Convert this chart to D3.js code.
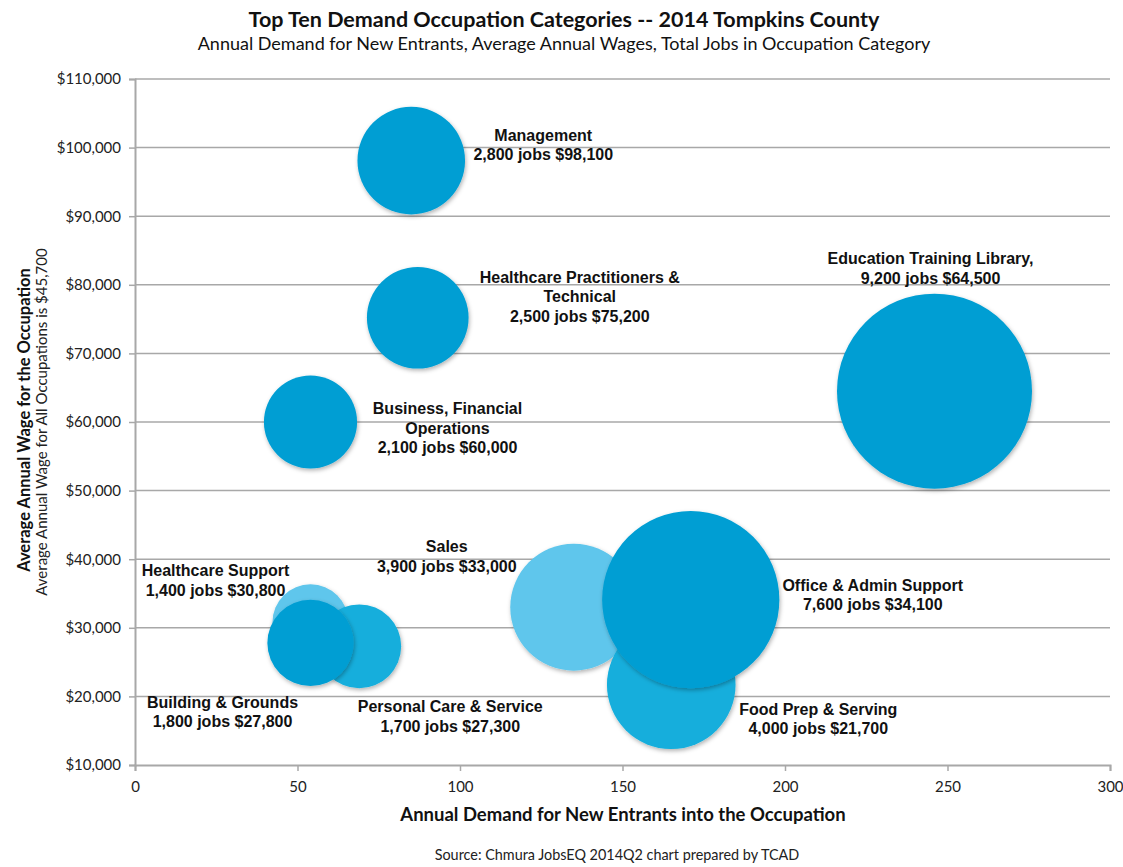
<!DOCTYPE html>
<html>
<head>
<meta charset="utf-8">
<script src="https://cdn.jsdelivr.net/npm/d3@7"></script>
<style>
  body { margin: 0; background: #fff; }
  .tick text { font-family: Lato, "Open Sans", sans-serif; font-size: 15px; fill: #222; }
  .lbl { font-family: "Liberation Sans", Arial, sans-serif; font-weight: bold; font-size: 16px; fill: #111; }
</style>
</head>
<body>
<div class="chart"></div>
<script>
// Occupation data
var occupations = ["Sales", "Food Prep & Serving", "Office & Admin Support",
  "Healthcare Support", "Personal Care & Service", "Building & Grounds",
  "Management", "Healthcare Practitioners & Technical", "Business, Financial Operations",
  "Education Training Library,"];
var demand = [135, 165, 171, 54, 69, 54, 85, 87, 54, 246];
var wages = [33000, 21700, 34100, 30800, 27300, 27800, 98100, 75200, 60000, 64500];
var jobs = [3900, 4000, 7600, 1400, 1700, 1800, 2800, 2500, 2100, 9200];
var shade = ["light", "mid", "dark", "light", "mid", "dark", "dark", "dark", "dark", "dark"];
var avgWage = 45700;
var xTicks = [0, 50, 100, 150, 200, 250, 300];
var yTicks = [10000, 20000, 30000, 40000, 50000, 60000, 70000, 80000, 90000, 100000, 110000];

// label lines and offsets (px) from the bubble centre
var labelLines = [
  ["Sales"], ["Food Prep & Serving"], ["Office & Admin Support"],
  ["Healthcare Support"], ["Personal Care & Service"], ["Building & Grounds"],
  ["Management"], ["Healthcare Practitioners &", "Technical"], ["Business, Financial", "Operations"],
  ["Education Training Library,"]];
var labelOffset = [[-127, -61], [147, 24], [182, -15], [-95, -52], [91, 60], [-88, 59],
  [132, -26], [162, -41], [137, -14], [-4, -133]];

var colors = { dark: "#009ED3", mid: "#13AEDC", light: "#5EC6EC" };

var svgWidth = 1123, svgHeight = 867;
var margin = { top: 79, right: 13, bottom: 102, left: 135 };
var width = svgWidth - margin.left - margin.right;
var height = svgHeight - margin.top - margin.bottom;

var svg = d3.select(".chart").append("svg")
  .attr("width", svgWidth)
  .attr("height", svgHeight)
  .style("font-family", "Lato, sans-serif");

var defs = svg.append("defs");
var shadow = defs.append("filter").attr("id", "shadow")
  .attr("x", "-20%").attr("y", "-20%").attr("width", "140%").attr("height", "140%");
shadow.append("feDropShadow").attr("dx", 1).attr("dy", 2).attr("stdDeviation", 2)
  .attr("flood-color", "#000").attr("flood-opacity", 0.3);

var chartGroup = svg.append("g")
  .attr("transform", `translate(${margin.left}, ${margin.top})`);

var xScale = d3.scaleLinear().domain([0, 300]).range([0, 975]);
var yScale = d3.scaleLinear().domain([10000, 110000]).range([height, 0]);
var rScale = d3.scaleSqrt().domain([0, 9200]).range([0, 97.5]);

// gridlines
chartGroup.append("g")
  .selectAll("line")
  .data(yTicks.slice(1))
  .enter().append("line")
  .attr("x1", 0).attr("x2", xScale(300))
  .attr("y1", d => yScale(d)).attr("y2", d => yScale(d))
  .attr("stroke", "#A8A8A8").attr("stroke-width", 1.5);

// axes
var leftAxis = d3.axisLeft(yScale).tickValues(yTicks).tickSize(6).tickPadding(8)
  .tickFormat(d => "$" + d3.format(",")(d));
var bottomAxis = d3.axisBottom(xScale).tickValues(xTicks).tickSize(6).tickPadding(10);

var yAxisG = chartGroup.append("g").call(leftAxis);
var xAxisG = chartGroup.append("g").attr("transform", `translate(0, ${height})`).call(bottomAxis);
[yAxisG, xAxisG].forEach(function (g) {
  g.select(".domain").attr("stroke", "#A8A8A8").attr("stroke-width", 2);
  g.selectAll(".tick line").attr("stroke", "#A8A8A8").attr("stroke-width", 1.5);
});

// average wage line
chartGroup.append("line")
  .attr("x1", 2).attr("x2", xScale(300) + 7)
  .attr("y1", yScale(avgWage)).attr("y2", yScale(avgWage))
  .attr("stroke", "#5B8DC9").attr("stroke-width", 3.5)
  .attr("filter", "url(#shadow)");

// bubbles
var data = occupations.map(function (name, i) {
  return { name: name, demand: demand[i], wage: wages[i], jobs: jobs[i], shade: shade[i],
    lines: labelLines[i], off: labelOffset[i] };
});

chartGroup.append("g")
  .selectAll("circle")
  .data(data)
  .enter().append("circle")
  .attr("cx", d => xScale(d.demand))
  .attr("cy", d => yScale(d.wage))
  .attr("r", d => rScale(d.jobs))
  .attr("fill", d => colors[d.shade])
  .attr("filter", "url(#shadow)");

// labels
var fmt = d3.format(",");
var labels = chartGroup.append("g")
  .selectAll("text")
  .data(data)
  .enter().append("text")
  .attr("class", "lbl")
  .attr("text-anchor", "middle")
  .attr("x", d => xScale(d.demand) + d.off[0])
  .attr("y", d => yScale(d.wage) + d.off[1] + 6);

labels.each(function (d) {
  var t = d3.select(this);
  var lines = d.lines.concat([fmt(d.jobs) + " jobs $" + fmt(d.wage)]);
  lines.forEach(function (line, i) {
    t.append("tspan")
      .attr("x", xScale(d.demand) + d.off[0])
      .attr("dy", i === 0 ? 0 : 19.5)
      .text(line);
  });
});

// titles
svg.append("text")
  .attr("x", 564).attr("y", 27)
  .attr("text-anchor", "middle")
  .style("font-size", "21.5px").style("font-weight", "bold").attr("fill", "#111")
  .text("Top Ten Demand Occupation Categories -- 2014 Tompkins County");

svg.append("text")
  .attr("x", 564).attr("y", 50)
  .attr("text-anchor", "middle")
  .style("font-size", "18px").attr("fill", "#111")
  .text("Annual Demand for New Entrants, Average Annual Wages, Total Jobs in Occupation Category");

svg.append("text")
  .attr("transform", "translate(30, 420) rotate(-90)")
  .attr("text-anchor", "middle")
  .style("font-size", "16.5px").style("font-weight", "bold").attr("fill", "#111")
  .text("Average Annual Wage for the Occupation");

svg.append("text")
  .attr("transform", "translate(47, 422) rotate(-90)")
  .attr("text-anchor", "middle")
  .style("font-size", "15px").attr("fill", "#222")
  .text("Average Annual Wage for All Occupations is $45,700");

svg.append("text")
  .attr("x", 623).attr("y", 821)
  .attr("text-anchor", "middle")
  .style("font-size", "18.5px").style("font-weight", "bold").attr("fill", "#111")
  .text("Annual Demand for New Entrants into the Occupation");

svg.append("text")
  .attr("x", 617).attr("y", 860)
  .attr("text-anchor", "middle")
  .style("font-size", "14.4px").attr("fill", "#222")
  .text("Source: Chmura JobsEQ 2014Q2 chart prepared by TCAD");
</script>
</body>
</html>
